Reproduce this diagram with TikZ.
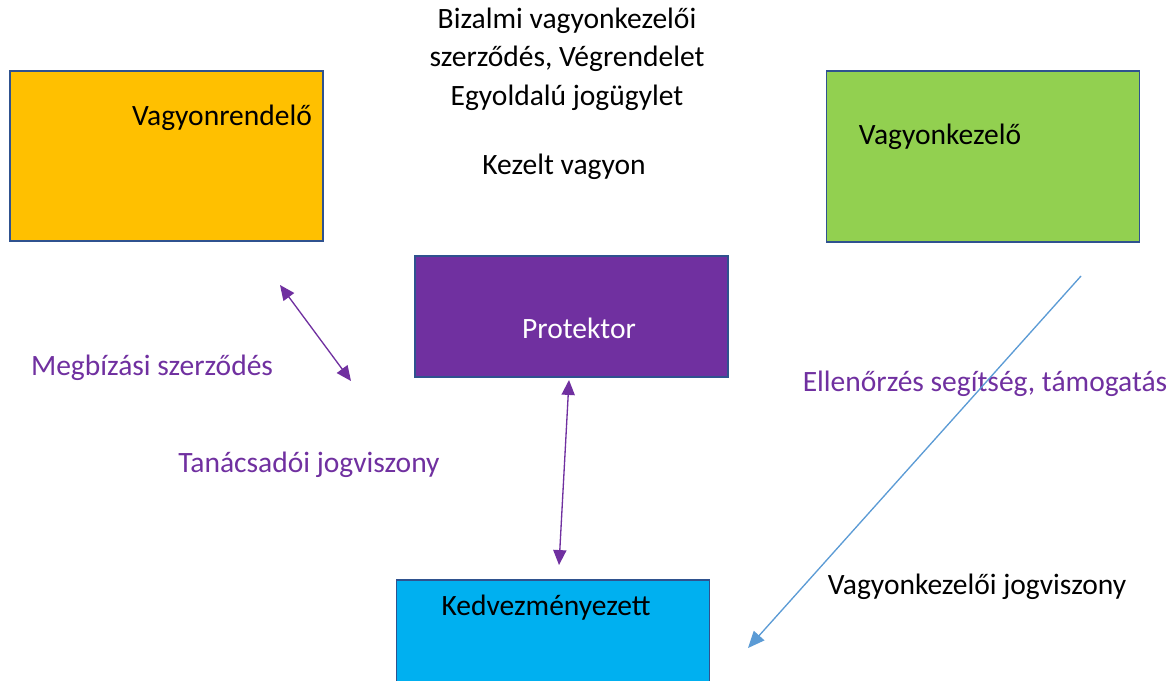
\documentclass[tikz,border=0pt]{standalone}
\usepackage{fontspec}
\setmainfont{Carlito}
\usepackage{xcolor}
\usetikzlibrary{arrows.meta, positioning}

\definecolor{rendelo}{HTML}{FFC000}
\definecolor{kezelo}{HTML}{92D050}
\definecolor{protektor}{HTML}{7030A0}
\definecolor{kedvez}{HTML}{00B0F0}
\definecolor{keret}{HTML}{2F528F}
\definecolor{nyilkek}{HTML}{5B9BD5}

\tikzset{
  doboz/.style={draw=keret, line width=1.1pt, minimum width=313*0.02cm, inner sep=0pt},
  felirat/.style={font=\fontsize{16.8}{20}\selectfont, inner sep=0pt},
  lila/.style={felirat, text=protektor},
  kettos/.style={protektor, line width=0.75pt, {Triangle[length=8.5pt, width=7.5pt]}-{Triangle[length=8.5pt, width=7.5pt]}},
}

\begin{document}
\begin{tikzpicture}[x=0.02cm, y=-0.02cm]
      \clip (0,0) rectangle (1172,680);
      \fill[white] (0,0) rectangle (1172,680);

      % dobozok
      \node[doboz, fill=rendelo, minimum height=170*0.02cm] (rendelo) at (166.5,156) {};
      \node[doboz, fill=kezelo, minimum height=171*0.02cm] (kezelo) at (983,156.5) {};
      \node[doboz, fill=protektor, minimum height=121*0.02cm] (prot) at (571.5,316.5) {};
      \node[doboz, fill=kedvez, minimum height=140*0.02cm] (kedv) at (553,650) {};

      \node[felirat] (rendelotxt) at (222,118) {Vagyonrendelő};
      \node[felirat] (kezelotxt) at (940,137) {Vagyonkezelő};
      \node[felirat, text=white] (prottxt) at (579,328) {Protektor};
      \node[felirat] (kedvtxt) at (546,608) {Kedvezményezett};

      % szerzodes szoveg
      \node[felirat, align=center, font=\fontsize{16.8}{21.8}\selectfont] (szerz) at (567,59)
        {Bizalmi vagyonkezelői\\szerződés, Végrendelet\\Egyoldalú jogügylet};
      \node[felirat] (kezelt) at (564,167) {Kezelt vagyon};

      \node[lila] (megbizas) at (152,368) {Megbízási szerződés};
      \node[lila] (tanacs) at (309,465) {Tanácsadói jogviszony};
      \node[lila] (ellenorzes) at (985,384) {Ellenőrzés segítség, támogatás};
      \node[felirat] (vkjogv) at (977,587) {Vagyonkezelői jogviszony};

      % nyilak
      \coordinate (m1) at (280,285);
      \coordinate (m2) at (351,381);
      \coordinate (t1) at (569,380);
      \coordinate (t2) at (559,565);
      \coordinate (e1) at (1081,276);
      \coordinate (e2) at (748,648);

      \draw[kettos] (m1) -- (m2);
      \draw[kettos] (t1) -- (t2);
      \draw[nyilkek, line width=0.75pt, -{Triangle[length=9.5pt, width=8pt]}] (e1) -- (e2);
\end{tikzpicture}
\end{document}
